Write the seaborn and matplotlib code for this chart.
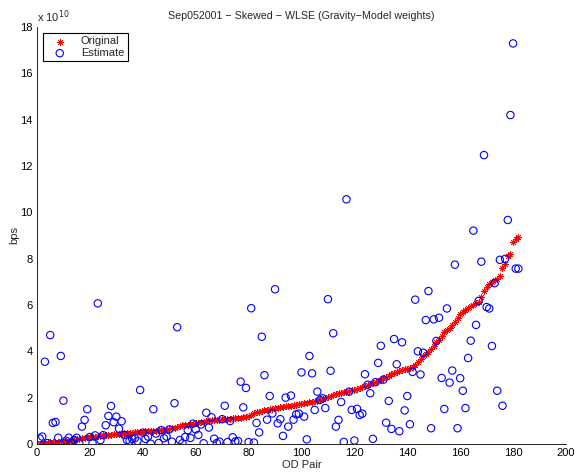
import numpy as np
import pandas as pd
import matplotlib
matplotlib.use("Agg")
import matplotlib.pyplot as plt
import seaborn as sns

# Traffic per origin-destination pair, in units of 1e10 bps
original = [
    0.02, 0.04, 0.05, 0.06, 0.07, 0.08, 0.09, 0.10, 0.11, 0.12,
    0.13, 0.15, 0.16, 0.18, 0.20, 0.22, 0.25, 0.27, 0.29, 0.30,
    0.31, 0.32, 0.34, 0.35, 0.37, 0.38, 0.39, 0.40, 0.41, 0.42,
    0.43, 0.44, 0.46, 0.47, 0.48, 0.49, 0.50, 0.51, 0.52, 0.53,
    0.54, 0.55, 0.56, 0.57, 0.58, 0.59, 0.60, 0.61, 0.62, 0.64,
    0.67, 0.70, 0.74, 0.77, 0.80, 0.82, 0.84, 0.86, 0.88, 0.90,
    0.92, 0.94, 0.96, 0.98, 1.00, 1.02, 1.03, 1.04, 1.05, 1.06,
    1.07, 1.08, 1.09, 1.10, 1.11, 1.12, 1.14, 1.16, 1.18, 1.21,
    1.26, 1.32, 1.36, 1.39, 1.42, 1.45, 1.47, 1.50, 1.52, 1.54,
    1.56, 1.58, 1.60, 1.62, 1.64, 1.66, 1.68, 1.70, 1.72, 1.74,
    1.76, 1.78, 1.80, 1.82, 1.84, 1.86, 1.89, 1.93, 1.97, 2.01,
    2.05, 2.10, 2.14, 2.18, 2.20, 2.23, 2.25, 2.28, 2.31, 2.34,
    2.38, 2.42, 2.46, 2.50, 2.55, 2.59, 2.63, 2.68, 2.73, 2.78,
    2.83, 2.89, 2.95, 3.01, 3.06, 3.11, 3.15, 3.19, 3.22, 3.25,
    3.28, 3.33, 3.42, 3.55, 3.68, 3.80, 3.90, 3.98, 4.08, 4.24,
    4.40, 4.50, 4.65, 4.82, 4.90, 5.00, 5.12, 5.28, 5.45, 5.60,
    5.70, 5.78, 5.86, 5.95, 6.02, 6.08, 6.14, 6.35, 6.60, 6.78,
    6.90, 7.00, 7.06, 7.12, 7.25, 7.60, 7.75, 8.12, 8.20, 8.72,
    8.85, 8.95,
]

estimate = [
    0.24, 0.32, 3.55, 0.04, 4.70, 0.91, 0.95, 0.27, 3.80, 1.87,
    0.14, 0.27, 0.04, 0.17, 0.27, 0.04, 0.75, 1.04, 1.50, 0.30,
    0.04, 0.37, 6.07, 0.17, 0.38, 0.81, 1.21, 1.64, 0.94, 1.18,
    0.66, 0.98, 0.39, 0.17, 0.13, 0.22, 0.25, 0.13, 2.33, 0.49,
    0.22, 0.32, 0.01, 1.50, 0.45, 0.04, 0.60, 0.25, 0.32, 0.63,
    0.10, 1.76, 5.04, 0.17, 0.03, 0.30, 0.60, 0.26, 0.88, 0.63,
    0.39, 0.84, 0.03, 1.35, 0.71, 1.15, 0.23, 0.04, 0.10, 1.07,
    1.65, 0.08, 0.99, 0.29, 0.11, 0.13, 2.69, 1.58, 2.42, 0.08,
    5.86, 0.06, 0.91, 0.50, 4.63, 2.97, 1.05, 2.07, 1.32, 6.68,
    0.89, 1.07, 0.35, 2.00, 0.75, 2.09, 1.05, 1.28, 1.31, 3.09,
    1.18, 0.20, 3.80, 3.05, 1.47, 2.26, 1.90, 1.97, 1.55, 6.25,
    3.16, 4.78, 0.75, 1.04, 1.81, 0.09, 10.56, 2.26, 1.47, 0.15,
    1.52, 1.25, 1.31, 3.01, 2.56, 2.19, 0.22, 2.67, 3.50, 4.24,
    2.78, 0.92, 1.86, 0.65, 4.53, 3.44, 0.55, 4.39, 1.45, 2.07,
    0.85, 3.11, 6.23, 4.00, 3.00, 3.94, 5.35, 6.60, 0.68, 5.38,
    4.45, 5.45, 2.85, 1.51, 5.85, 2.65, 3.17, 7.74, 0.68, 2.84,
    2.30, 1.55, 3.71, 4.46, 9.21, 5.14, 6.18, 7.87, 12.47, 5.91,
    5.85, 4.23, 6.94, 2.30, 7.95, 1.65, 7.99, 9.67, 14.20, 17.29,
    7.57, 7.57,
]

SCALE = 1e10
x_ticks = list(range(0, 201, 20))
y_ticks = list(range(0, 19, 2))

od_pair = np.arange(1, len(original) + 1)
df = pd.DataFrame({
    "od": od_pair,
    "original": np.array(original) * SCALE,
    "estimate": np.array(estimate) * SCALE,
})

sns.set_style("white")
plt.rcParams["font.family"] = ["Liberation Sans", "DejaVu Sans"]
plt.rcParams["font.size"] = 8

fig = plt.figure(figsize=(5.76, 4.75), dpi=100)
ax = fig.add_axes([0.0642, 0.0653, 0.9184, 0.8779])

sns.scatterplot(data=df, x="od", y="original", ax=ax, marker=(8, 2, 0),
                s=20, color="#ff0000", ec="#ff0000", linewidth=0.6,
                label="Original", zorder=2)
sns.scatterplot(data=df, x="od", y="estimate", ax=ax, marker="o",
                s=28, fc="none", ec="#0000ff", linewidth=0.8,
                label="Estimate", zorder=3)

ax.set_xlim(0, 200)
ax.set_ylim(0, 18 * SCALE)
ax.set_xticks(x_ticks)
ax.set_xticklabels([str(t) for t in x_ticks])
ax.set_yticks([t * SCALE for t in y_ticks])
ax.set_yticklabels([str(t) for t in y_ticks])
ax.tick_params(direction="in", length=4, width=0.6, colors="black",
               labelsize=8, pad=3)

for side in ("top", "right"):
    ax.spines[side].set_visible(False)
for side in ("left", "bottom"):
    ax.spines[side].set_color("black")
    ax.spines[side].set_linewidth(0.6)

ax.set_xlabel("OD Pair", fontsize=8, labelpad=1)
ax.set_ylabel("bps", fontsize=8, labelpad=1)
ax.set_title("Sep052001 \u2212 Skewed \u2212 WLSE (Gravity\u2212Model weights)",
             fontsize=7.7, pad=6)
ax.text(0.0, 1.005, "x 10$^{10}$", transform=ax.transAxes, fontsize=8,
        ha="left", va="bottom")

leg = ax.legend(loc="upper left", frameon=True, fancybox=False,
                edgecolor="black", framealpha=1, fontsize=8,
                borderaxespad=0.55, handletextpad=0.7, borderpad=0.3,
                labelspacing=0.15, handlelength=2.4)
leg.get_frame().set_linewidth(0.8)

fig.savefig("out.png", dpi=100, facecolor="white")
